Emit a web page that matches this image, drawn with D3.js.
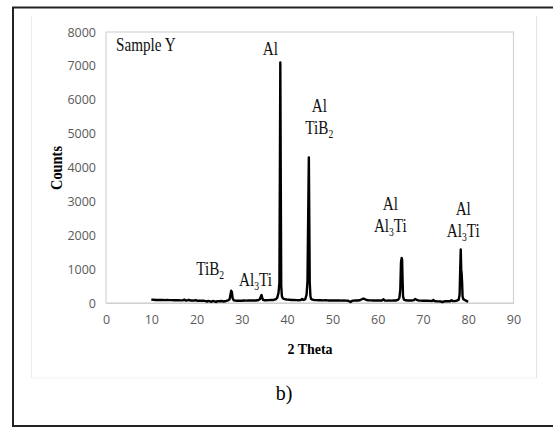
<!DOCTYPE html>
<html>
<head>
<meta charset="utf-8">
<script src="https://cdn.jsdelivr.net/npm/d3@7"></script>
<style>
  html, body { margin: 0; padding: 0; background: #fff; }
  svg { display: block; }
</style>
</head>
<body>
<svg id="chart" width="553" height="428"></svg>
<script>
// ---- Data ----
const twoTheta = [
  10.0, 10.5, 11.0, 11.5, 12.0, 12.5, 13.0, 13.5, 14.0, 14.5, 15.0, 15.5, 16.0, 16.5, 17.0, 17.3, 17.6,
  18.0, 18.3, 18.6, 19.0, 19.5, 19.8, 20.1, 20.5, 21.0, 21.5, 22.0, 22.3, 22.6, 23.0, 23.3, 23.6,
  24.0, 24.3, 24.6, 25.0, 25.5, 26.0, 26.5, 27.0, 27.3, 27.5, 27.65, 27.8, 27.95, 28.2, 28.6,
  29.0, 29.5, 30.0, 30.5, 31.0, 31.5, 32.0, 32.5, 33.0, 33.5, 34.0, 34.2, 34.35, 34.5, 34.7,
  35.0, 35.5, 36.0, 36.5, 37.0, 37.5, 37.8, 38.1, 38.3, 38.4, 38.5, 38.6, 38.7, 38.85, 39.0,
  39.3, 39.6, 40.0, 40.5, 41.0, 41.5, 42.0, 42.5, 43.0, 43.3, 43.6, 44.0, 44.3, 44.5, 44.65,
  44.8, 44.9, 45.0, 45.15, 45.3, 45.6, 46.0, 46.5, 47.0, 47.5, 48.0, 48.5, 49.0, 49.5, 50.0,
  50.5, 51.0, 51.5, 52.0, 52.5, 53.0, 53.5, 54.0, 54.3, 54.6, 55.0, 55.5, 56.0, 56.5, 56.8,
  57.1, 57.5, 58.0, 58.5, 59.0, 59.5, 60.0, 60.5, 61.0, 61.3, 61.6, 62.0, 62.5, 63.0, 63.5,
  64.0, 64.5, 64.8, 65.0, 65.15, 65.3, 65.4, 65.5, 65.6, 65.8, 66.2, 66.6, 67.0, 67.5, 68.0,
  68.3, 68.6, 69.0, 69.5, 70.0, 70.5, 71.0, 71.5, 72.0, 72.3, 72.6, 73.0, 73.5, 74.0, 74.3,
  74.6, 75.0, 75.5, 76.0, 76.3, 76.6, 77.0, 77.5, 77.9, 78.1, 78.25, 78.35, 78.45, 78.55, 78.65,
  78.75, 78.9, 79.2, 79.5, 79.8, 80.0
];
const counts = [
  100, 95, 90, 92, 88, 90, 85, 87, 84, 86, 82, 80, 83, 78, 80, 100, 75,
  78, 95, 72, 74, 70, 90, 68, 70, 66, 68, 55, 40, 62, 50, 35, 60,
  45, 30, 55, 50, 58, 45, 60, 80, 110, 250, 360, 330, 150, 80, 70,
  65, 70, 68, 72, 70, 75, 72, 78, 74, 80, 110, 200, 235, 160, 90,
  80, 82, 85, 88, 90, 110, 150, 300, 600, 3700, 7100, 3600, 500, 200, 150,
  120, 110, 100, 95, 90, 88, 85, 82, 85, 120, 90, 110, 250, 650, 2500,
  4300, 2400, 600, 200, 120, 100, 90, 85, 82, 80, 78, 80, 76, 78, 75,
  74, 72, 74, 70, 72, 70, 68, 30, 60, 70, 72, 75, 80, 110, 130,
  120, 90, 80, 78, 75, 76, 74, 72, 75, 110, 72, 70, 72, 70, 72,
  75, 90, 150, 400, 1200, 1330, 1280, 700, 200, 100, 80, 75, 72, 75, 85,
  120, 95, 75, 70, 68, 66, 65, 62, 60, 90, 55, 50, 48, 45, 25,
  45, 50, 55, 50, 80, 55, 60, 70, 100, 250, 1100, 1580, 1000, 850, 600,
  200, 120, 90, 70, 50, 40
];
const xTicks = [0, 10, 20, 30, 40, 50, 60, 70, 80, 90];
const yTicks = [0, 1000, 2000, 3000, 4000, 5000, 6000, 7000, 8000];

// Peak annotations: centre position (2θ), baseline of first line (counts), text lines
const annoX = [36.3, 47.1, 62.8, 78.9, 23.0, 33.0];
const annoTopCounts = [7320, 5640, 2745, 2600, 826, 500];
const annoLines = [
  [["Al"]],
  [["Al"], ["TiB", "2"]],
  [["Al"], ["Al", "3", "Ti"]],
  [["Al"], ["Al", "3", "Ti"]],
  [["TiB", "2"]],
  [["Al", "3", "Ti"]]
];

// ---- Drawing ----
const svg = d3.select("#chart");
const serif = "'Liberation Serif', 'Times New Roman', serif";
const sans = "'Open Sans', 'Liberation Sans', sans-serif";

// outer border
svg.append("rect").attr("x", 13).attr("y", 7.5).attr("width", 560).attr("height", 418.5)
  .attr("fill", "none").attr("stroke", "#222").attr("stroke-width", 2);

// faint inner frame lines
svg.append("line").attr("x1", 31.5).attr("x2", 31.5).attr("y1", 16).attr("y2", 378)
  .attr("stroke", "#ececec").attr("stroke-width", 1.2);
svg.append("line").attr("x1", 536.5).attr("x2", 536.5).attr("y1", 16).attr("y2", 378)
  .attr("stroke", "#e4e4e4").attr("stroke-width", 1.2);
svg.append("line").attr("x1", 31.5).attr("x2", 536.5).attr("y1", 378).attr("y2", 378)
  .attr("stroke", "#f2f2f2").attr("stroke-width", 1);

const x = d3.scaleLinear().domain([0, 90]).range([106, 513.5]);
const y = d3.scaleLinear().domain([0, 8000]).range([303, 32]);

// plot area border
svg.append("rect").attr("x", x(0)).attr("y", y(8000))
  .attr("width", x(90) - x(0)).attr("height", y(0) - y(8000))
  .attr("fill", "none").attr("stroke", "#d4d4d4").attr("stroke-width", 1.2);

// y axis (labels only)
const yAxis = d3.axisLeft(y).tickValues(yTicks).tickSize(0).tickPadding(10)
  .tickFormat(d3.format("d"));
const gy = svg.append("g").attr("transform", `translate(${x(0)},0)`).call(yAxis);
gy.select(".domain").remove();
gy.selectAll("text").attr("font-family", sans).attr("font-size", 12.5).attr("fill", "#5a5a5a");

// x axis
const xAxis = d3.axisBottom(x).tickValues(xTicks).tickSize(0).tickPadding(12)
  .tickFormat(d3.format("d"));
const gx = svg.append("g").attr("transform", `translate(0,${y(0)})`).call(xAxis);
gx.select(".domain").attr("stroke", "#d0d0d0").attr("stroke-width", 1.2);
gx.selectAll("text").attr("font-family", sans).attr("font-size", 12.5).attr("fill", "#5a5a5a");

// data line
const pts = twoTheta.map((t, i) => [t, counts[i]]);
const line = d3.line().x(d => x(d[0])).y(d => y(d[1]));
svg.append("path").datum(pts).attr("d", line)
  .attr("fill", "none").attr("stroke", "#000").attr("stroke-width", 2.4)
  .attr("stroke-linejoin", "round");

// condensed serif text helper
function condText(px, py, anchor, size) {
  return svg.append("g").attr("transform", `translate(${px},${py}) scale(0.8,1)`)
    .append("text").attr("text-anchor", anchor).attr("font-family", serif)
    .attr("font-size", size).attr("fill", "#111");
}

// axis titles
svg.append("g").attr("transform", `translate(62,168) rotate(-90) scale(0.9,1)`)
  .append("text").attr("text-anchor", "middle").attr("font-family", serif)
  .attr("font-weight", "bold").attr("font-size", 16).text("Counts");
svg.append("g").attr("transform", `translate(310,354) scale(0.9,1)`)
  .append("text").attr("text-anchor", "middle").attr("font-family", serif)
  .attr("font-weight", "bold").attr("font-size", 15.5).text("2 Theta");

// sample label
condText(116, 51, "start", 19).text("Sample Y");

// peak annotations
annoX.forEach((ax, i) => {
  annoLines[i].forEach((parts, j) => {
    const t = condText(x(ax), y(annoTopCounts[i]) + j * 22, "middle", 19);
    if (parts.length === 1) {
      t.text(parts[0]);
    } else if (parts.length === 2) {
      t.append("tspan").text(parts[0]);
      t.append("tspan").attr("font-size", 12).attr("dy", 4).text(parts[1]);
    } else {
      t.append("tspan").text(parts[0]);
      t.append("tspan").attr("font-size", 12).attr("dy", 4).text(parts[1]);
      t.append("tspan").attr("dy", -4).text(parts[2]);
    }
  });
});

// panel label
svg.append("text").attr("x", 284).attr("y", 400).attr("text-anchor", "middle")
  .attr("font-family", serif).attr("font-size", 20).text("b)");
</script>
</body>
</html>
